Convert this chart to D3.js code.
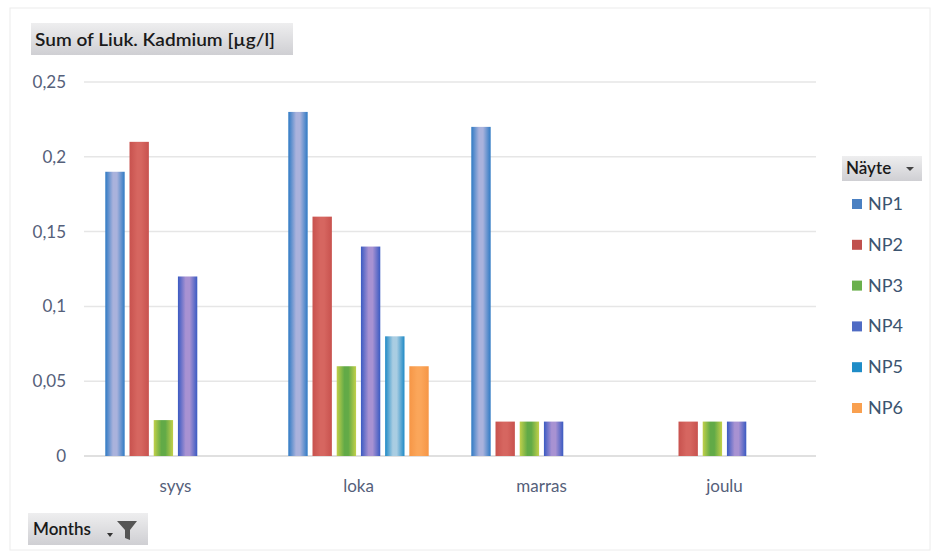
<!DOCTYPE html>
<html>
<head>
<meta charset="utf-8">
<script src="https://cdn.jsdelivr.net/npm/d3@7/dist/d3.min.js"></script>
<style>
  body { margin: 0; background: #fff; }
  text { font-family: Lato, "Open Sans", sans-serif; }
</style>
</head>
<body>
<div class="chart"></div>
<script>
// data
const months = ['syys', 'loka', 'marras', 'joulu'];
const series = ['NP1', 'NP2', 'NP3', 'NP4', 'NP5', 'NP6'];
const NP1 = [0.19, 0.23, 0.22, null];
const NP2 = [0.21, 0.16, 0.023, 0.023];
const NP3 = [0.024, 0.06, 0.023, 0.023];
const NP4 = [0.12, 0.14, 0.023, 0.023];
const NP5 = [null, 0.08, null, null];
const NP6 = [null, 0.06, null, null];
const yTicks = [0, 0.05, 0.1, 0.15, 0.2, 0.25];

const values = {NP1, NP2, NP3, NP4, NP5, NP6};
// edge / middle colours for the shaded bars, and the legend swatch
const colors = {
  NP1: {edge: '#2f7ac4', mid: '#aab2dc', key: '#4a80c2'},
  NP2: {edge: '#c8524e', mid: '#d66660', key: '#c0504d'},
  NP3: {edge: '#c2d04a', mid: '#62aa47', key: '#6ab04c'},
  NP4: {edge: '#3a5ac2', mid: '#a892d2', key: '#4f6bc4'},
  NP5: {edge: '#1f8ac6', mid: '#a9cde2', key: '#1f8cc7'},
  NP6: {edge: '#f69646', mid: '#fba65a', key: '#f9a04f'}
};

const width = 938;
const height = 556;
const svg = d3.select('.chart')
  .append('svg')
  .attr('width', width)
  .attr('height', height);

const defs = svg.append('defs');
series.forEach(s => {
  const g = defs.append('linearGradient')
    .attr('id', 'g-' + s)
    .attr('x1', '0%').attr('x2', '100%').attr('y1', '0%').attr('y2', '0%');
  g.append('stop').attr('offset', '0%').attr('stop-color', colors[s].edge);
  g.append('stop').attr('offset', '40%').attr('stop-color', colors[s].mid);
  g.append('stop').attr('offset', '60%').attr('stop-color', colors[s].mid);
  g.append('stop').attr('offset', '100%').attr('stop-color', colors[s].edge);
});
const btn = defs.append('linearGradient')
  .attr('id', 'btn')
  .attr('x1', '0%').attr('x2', '0%').attr('y1', '0%').attr('y2', '100%');
btn.append('stop').attr('offset', '0%').attr('stop-color', '#eeeeef');
btn.append('stop').attr('offset', '100%').attr('stop-color', '#cfcfd3');

// faint outer frame
svg.append('rect')
  .attr('x', 10).attr('y', 8)
  .attr('width', 920).attr('height', 542)
  .attr('fill', 'none')
  .attr('stroke', '#ececec');

const x0 = d3.scaleBand()
  .domain(months)
  .range([84, 816]);

const x1 = d3.scaleBand()
  .domain(series)
  .range([0, x0.bandwidth()])
  .paddingInner(0.2)
  .paddingOuter(0.88);

const y = d3.scaleLinear()
  .domain([0, 0.25])
  .range([456, 82]);

const fi = d3.formatLocale({decimal: ',', thousands: ' ', grouping: [3], currency: ['', '']});
const fmt = fi.format('~g');

// gridlines
svg.selectAll('line.grid')
  .data(yTicks)
  .enter()
  .append('line')
  .attr('class', 'grid')
  .attr('x1', 84)
  .attr('x2', 816)
  .attr('y1', d => y(d))
  .attr('y2', d => y(d))
  .attr('stroke', d => d === 0 ? '#d6d6d6' : '#e6e6e6')
  .attr('stroke-width', 1.5);

// y axis labels
const yAxis = svg.append('g')
  .attr('transform', 'translate(84,0)')
  .call(d3.axisLeft(y).tickValues(yTicks).tickFormat(fmt).tickSize(0).tickPadding(18));
yAxis.select('.domain').remove();
yAxis.selectAll('text')
  .attr('font-size', 17)
  .attr('fill', '#55607a')
  .style('font-family', 'Lato, sans-serif');

// x axis labels
const xAxis = svg.append('g')
  .attr('transform', 'translate(0,456)')
  .call(d3.axisBottom(x0).tickSize(0).tickPadding(24));
xAxis.select('.domain').remove();
xAxis.selectAll('text')
  .attr('font-size', 17)
  .attr('fill', '#55607a')
  .style('font-family', 'Lato, sans-serif');

// bars
const bars = [];
months.forEach((m, i) => {
  series.forEach(s => {
    if (values[s][i] != null) bars.push({month: m, series: s, value: values[s][i]});
  });
});

svg.selectAll('rect.bar')
  .data(bars)
  .enter()
  .append('rect')
  .attr('class', 'bar')
  .attr('x', d => x0(d.month) + x1(d.series))
  .attr('y', d => y(d.value))
  .attr('width', x1.bandwidth())
  .attr('height', d => y(0) - y(d.value))
  .attr('fill', d => 'url(#g-' + d.series + ')');

// title button
svg.append('rect')
  .attr('x', 31).attr('y', 23)
  .attr('width', 262).attr('height', 32)
  .attr('fill', 'url(#btn)');
svg.append('text')
  .text('Sum of Liuk. Kadmium [µg/l]')
  .attr('x', 35)
  .attr('y', 46)
  .attr('font-size', 18)
  .attr('font-weight', 600)
  .attr('fill', '#1a1a1a')
  .attr('textLength', 240)
  .attr('lengthAdjust', 'spacingAndGlyphs');

// legend
svg.append('rect')
  .attr('x', 842).attr('y', 156)
  .attr('width', 80).attr('height', 25)
  .attr('fill', 'url(#btn)');
svg.append('text')
  .text('Näyte')
  .attr('x', 846)
  .attr('y', 174)
  .attr('font-size', 17)
  .attr('font-weight', 600)
  .attr('fill', '#1a1a1a');
svg.append('path')
  .attr('d', 'M906,167 L914,167 L910,171 Z')
  .attr('fill', '#444');

const ly = d3.scalePoint()
  .domain(series)
  .range([204, 408]);

svg.selectAll('rect.key')
  .data(series)
  .enter()
  .append('rect')
  .attr('class', 'key')
  .attr('x', 852)
  .attr('y', d => ly(d) - 5)
  .attr('width', 10)
  .attr('height', 10)
  .attr('fill', d => colors[d].key);

svg.selectAll('text.key')
  .data(series)
  .enter()
  .append('text')
  .attr('class', 'key')
  .text(d => d)
  .attr('x', 868)
  .attr('y', d => ly(d) + 6)
  .attr('font-size', 18)
  .attr('fill', '#3b5470');

// months button
svg.append('rect')
  .attr('x', 28).attr('y', 513)
  .attr('width', 120).attr('height', 32)
  .attr('fill', 'url(#btn)');
svg.append('text')
  .text('Months')
  .attr('x', 33)
  .attr('y', 535)
  .attr('font-size', 17)
  .attr('font-weight', 600)
  .attr('fill', '#1a1a1a');
svg.append('path')
  .attr('d', 'M107,533 L113,533 L110,537 Z')
  .attr('fill', '#333');
svg.append('path')
  .attr('d', 'M117,521 L137,521 L130,530 L130,540 L125,538 L125,530 Z')
  .attr('fill', '#555');
</script>
</body>
</html>
